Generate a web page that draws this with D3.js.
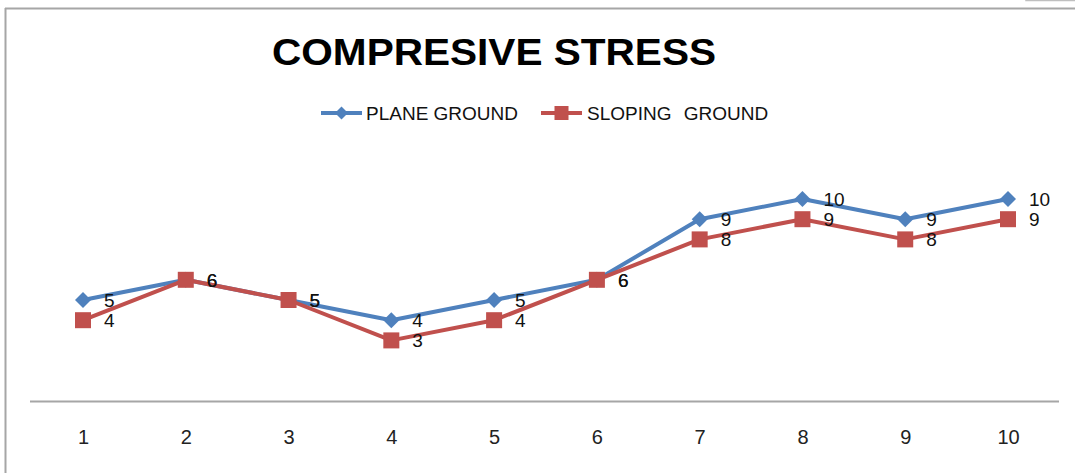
<!DOCTYPE html>
<html>
<head>
<meta charset="utf-8">
<script src="https://cdn.jsdelivr.net/npm/d3@7"></script>
<style>
  html, body { margin: 0; padding: 0; background: #fff; }
  svg { display: block; font-family: "Liberation Sans", Arial, sans-serif; }
</style>
</head>
<body>
<svg id="chart" width="1075" height="473"></svg>
<script>
// Compressive stress per location, for the two ground types
const categories = ["1", "2", "3", "4", "5", "6", "7", "8", "9", "10"];
const planeGround = [5, 6, 5, 4, 5, 6, 9, 10, 9, 10];
const slopingGround = [4, 6, 5, 3, 4, 6, 8, 9, 8, 9];
const seriesNames = ["PLANE GROUND", "SLOPING GROUND"];

const svg = d3.select("#chart");
const W = 1075, H = 473;
const blue = "#4F81BD", red = "#C0504D";

// outer frame
svg.append("rect").attr("x", 0).attr("y", 0).attr("width", W).attr("height", H).attr("fill", "#fff");
svg.append("line").attr("x1", 5).attr("x2", W).attr("y1", 8.5).attr("y2", 8.5)
  .attr("stroke", "#a6a6a6").attr("stroke-width", 2);
svg.append("line").attr("x1", 5.5).attr("x2", 5.5).attr("y1", 8).attr("y2", H)
  .attr("stroke", "#a6a6a6").attr("stroke-width", 2);
svg.append("path").attr("d", "M1026,0 V0.5 H1075").attr("fill", "none")
  .attr("stroke", "#bfbfbf").attr("stroke-width", 1.5);

// scales
const x = d3.scalePoint().domain(categories).range([83, 1008]);
const y = d3.scaleLinear().domain([0, 10]).range([401, 199]);

// title
svg.append("text").attr("x", 272).attr("y", 65)
  .attr("font-size", 37).attr("font-weight", "bold").attr("fill", "#000")
  .attr("textLength", 444).attr("lengthAdjust", "spacingAndGlyphs")
  .text("COMPRESIVE STRESS");

// category axis
const axis = svg.append("g").attr("transform", `translate(0,${y(0)})`)
  .call(d3.axisBottom(x).tickSize(0).tickPadding(29));
axis.select(".domain").attr("d", "M30,0.5H1059").attr("stroke", "#a6a6a6").attr("stroke-width", 2);
axis.selectAll("text").attr("font-size", 20).attr("fill", "#222")
  .attr("font-family", "'Liberation Sans', Arial, sans-serif");

const line = d3.line().x((d, i) => x(categories[i])).y(d => y(d));

function diamond(sel, s) {
  sel.attr("d", `M0,${-s}L${s},0L0,${s}L${-s},0Z`);
}

// plane ground first, sloping ground drawn on top where they meet
const seriesDefs = [
  { name: seriesNames[0], values: planeGround, color: blue, marker: "diamond" },
  { name: seriesNames[1], values: slopingGround, color: red, marker: "square" }
];

seriesDefs.forEach(s => {
  const g = svg.append("g");
  g.append("path").datum(s.values).attr("d", line).attr("fill", "none")
    .attr("stroke", s.color).attr("stroke-width", 4).attr("stroke-linejoin", "round");
  s.values.forEach((v, i) => {
    const cx = x(categories[i]), cy = y(v);
    if (s.marker === "square") {
      g.append("rect").attr("x", cx - 8).attr("y", cy - 8).attr("width", 16).attr("height", 16)
        .attr("fill", s.color);
    } else {
      g.append("path").attr("transform", `translate(${cx},${cy})`).call(diamond, 8)
        .attr("fill", s.color);
    }
  });
});

// data labels
seriesDefs.forEach(s => {
  svg.append("g").selectAll("text").data(s.values).join("text")
    .attr("x", (d, i) => x(categories[i]) + 21)
    .attr("y", d => y(d) + 7)
    .attr("font-size", 19).attr("fill", "#111")
    .text(d => d);
});

// legend
const legend = [
  { name: seriesNames[0], color: blue, marker: "diamond", x0: 321, tx: 366, ws: 0 },
  { name: seriesNames[1], color: red, marker: "square", x0: 541, tx: 587, ws: 7 }
];
legend.forEach(l => {
  const ly = 113;
  svg.append("line").attr("x1", l.x0).attr("x2", l.x0 + 41).attr("y1", ly).attr("y2", ly)
    .attr("stroke", l.color).attr("stroke-width", 4);
  const mx = l.x0 + 20.5;
  if (l.marker === "square") {
    svg.append("rect").attr("x", mx - 7).attr("y", ly - 7).attr("width", 14).attr("height", 14).attr("fill", l.color);
  } else {
    svg.append("path").attr("transform", `translate(${mx},${ly})`).call(diamond, 6.5).attr("fill", l.color);
  }
  svg.append("text").attr("x", l.tx).attr("y", ly + 7).attr("font-size", 19).attr("fill", "#111")
    .attr("word-spacing", l.ws)
    .text(l.name);
});
</script>
</body>
</html>
